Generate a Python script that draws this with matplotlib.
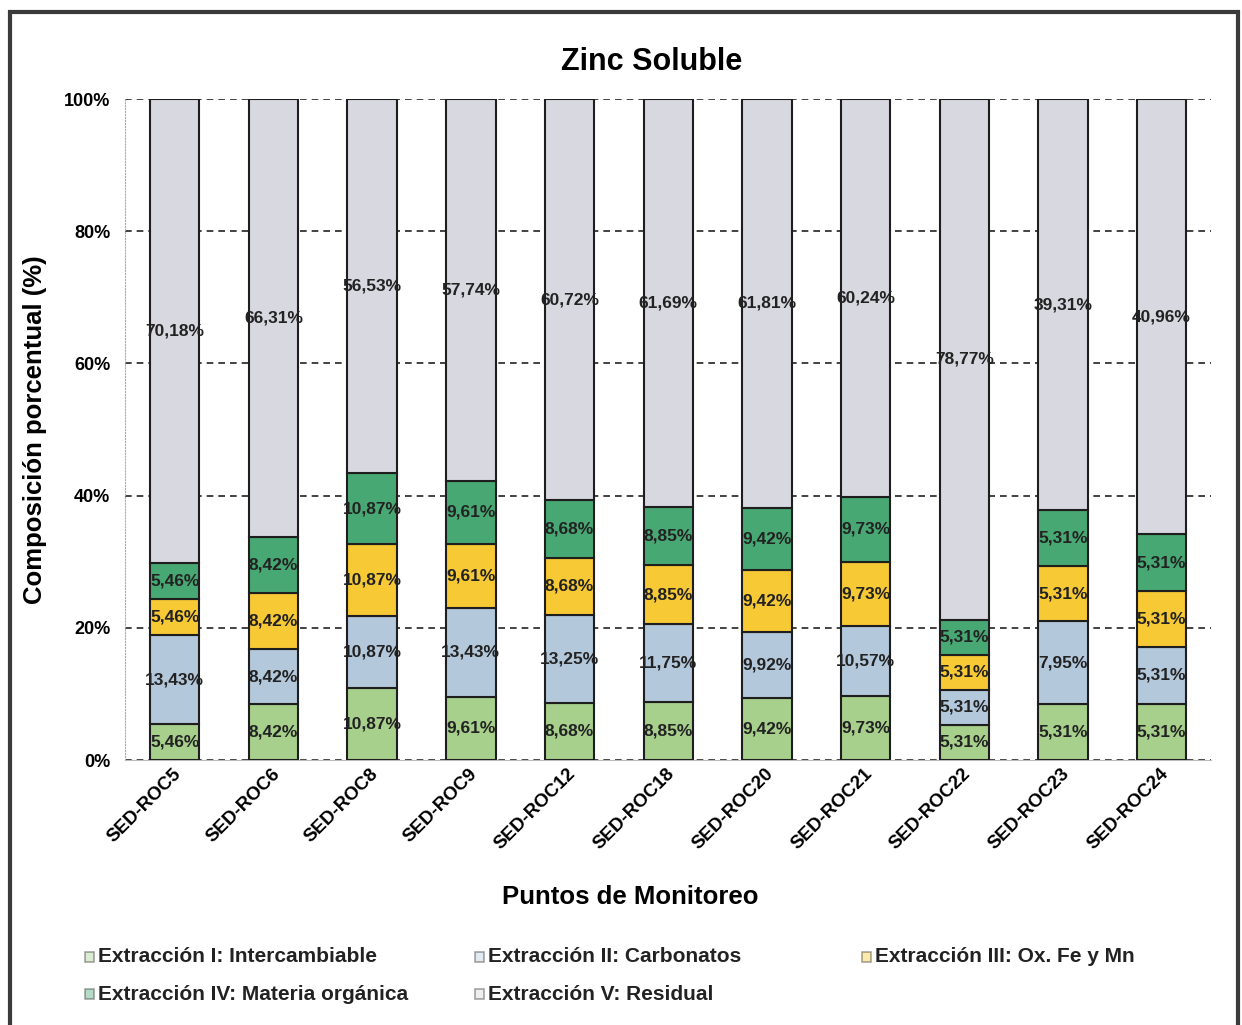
import numpy as np
import matplotlib.pyplot as plt
from matplotlib.patches import Rectangle

plt.rcParams['font.family'] = ['Liberation Sans', 'DejaVu Sans']

# Puntos de monitoreo
puntos = ['SED-ROC5', 'SED-ROC6', 'SED-ROC8', 'SED-ROC9', 'SED-ROC12', 'SED-ROC18',
          'SED-ROC20', 'SED-ROC21', 'SED-ROC22', 'SED-ROC23', 'SED-ROC24']

# porcentaje de cada fraccion (valores de las etiquetas)
ext_I = [5.46, 8.42, 10.87, 9.61, 8.68, 8.85, 9.42, 9.73, 5.31, 5.31, 5.31]
ext_II = [13.43, 8.42, 10.87, 13.43, 13.25, 11.75, 9.92, 10.57, 5.31, 7.95, 5.31]
ext_III = [5.46, 8.42, 10.87, 9.61, 8.68, 8.85, 9.42, 9.73, 5.31, 5.31, 5.31]
ext_IV = [5.46, 8.42, 10.87, 9.61, 8.68, 8.85, 9.42, 9.73, 5.31, 5.31, 5.31]
ext_V = [70.18, 66.31, 56.53, 57.74, 60.72, 61.69, 61.81, 60.24, 78.77, 39.31, 40.96]

nombres = ['Extracción I: Intercambiable', 'Extracción II: Carbonatos',
           'Extracción III: Ox. Fe y Mn', 'Extracción IV: Materia orgánica',
           'Extracción V: Residual']
colores = ['#a8d08d', '#b4c8dc', '#f7c934', '#48a873', '#d8d9e0']

series = np.array([ext_I, ext_II, ext_III, ext_IV, ext_V])
# grafico de 100% apilado: se normaliza por el total de cada punto
norm = series / series.sum(axis=0) * 100

fig = plt.figure(figsize=(12.42, 10.25), dpi=100)
ax = fig.add_axes([0.101, 0.2585, 0.874, 0.6449])

x = np.arange(len(puntos))
bottom = np.zeros(len(puntos))
for k in range(len(series)):
    ax.bar(x, norm[k], 0.5, bottom=bottom, color=colores[k],
           edgecolor='#1e1e1e', linewidth=1.5, zorder=3)
    for i in range(len(puntos)):
        txt = ('%.2f%%' % series[k, i]).replace('.', ',')
        ax.text(x[i], bottom[i] + norm[k, i] / 2, txt, ha='center', va='center',
                fontsize=12.5, fontweight='bold', color='#222222', zorder=4)
    bottom += norm[k]

ax.set_xlim(-0.5, len(puntos) - 0.5)
ax.set_ylim(0, 100)
ax.set_yticks([0, 20, 40, 60, 80, 100])
ax.set_yticklabels(['0%', '20%', '40%', '60%', '80%', '100%'],
                   fontsize=13, fontweight='bold')
ax.yaxis.grid(True, color='#222222', linestyle=(0, (4, 3)), linewidth=1.2)
ax.set_axisbelow(True)
ax.tick_params(axis='y', length=0, pad=11)
ax.tick_params(axis='x', length=0, pad=8)
ax.set_xticks(x + 0.04)
ax.set_xticklabels(puntos, rotation=45, ha='right', va='center',
                   rotation_mode='anchor', fontsize=13.5, fontweight='bold')
for s in ['top', 'right']:
    ax.spines[s].set_visible(False)
ax.spines['left'].set_color('#aaaaaa')
ax.spines['left'].set_linestyle(':')
ax.spines['bottom'].set_color('#bbbbbb')

ax.set_ylabel('Composición porcentual (%)', fontsize=18.5, fontweight='bold', labelpad=12)
fig.text(652 / 1242, 1 - 62 / 1025, 'Zinc Soluble', ha='center', va='center',
         fontsize=22, fontweight='bold')
fig.text(630 / 1242, 1 - 897 / 1025, 'Puntos de Monitoreo', ha='center', va='center',
         fontsize=18.5, fontweight='bold')

# leyenda manual (dos filas)
pos_leg = [(85, 957), (475, 957), (862, 957), (85, 994), (475, 994)]
for k, (px, py) in enumerate(pos_leg):
    fig.patches.append(Rectangle((px / 1242, 1 - (py + 5) / 1025), 9 / 1242, 10 / 1025,
                                 transform=fig.transFigure, facecolor=colores[k],
                                 edgecolor='#222222', linewidth=1.2, alpha=0.4))
    fig.text((px + 13) / 1242, 1 - py / 1025, nombres[k], ha='left', va='center',
             fontsize=15, fontweight='bold', color='#222222')

# marco exterior
fig.patches.append(Rectangle((10 / 1242, -0.05), 1228 / 1242, 1.05 - 12 / 1025,
                             transform=fig.transFigure, fill=False,
                             edgecolor='#3a3a3a', linewidth=3))

fig.savefig('out.png', dpi=100, facecolor='white')
